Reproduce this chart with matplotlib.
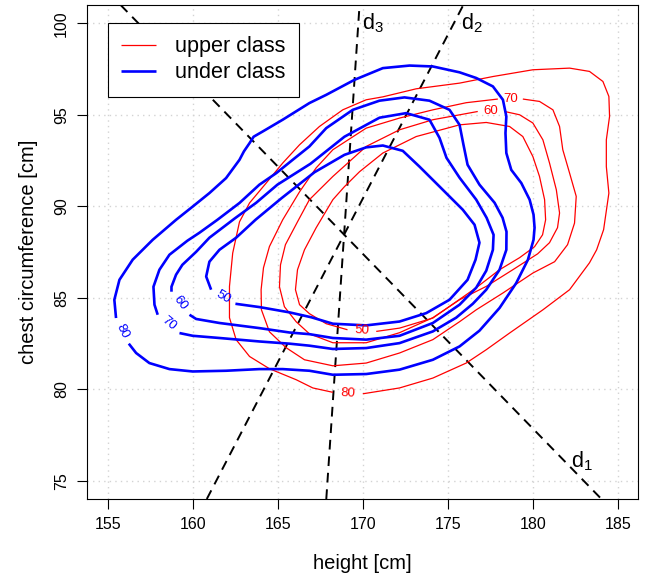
import matplotlib
matplotlib.use("Agg")
import matplotlib.pyplot as plt
import numpy as np

plt.rcParams['font.family'] = ['Liberation Sans', 'DejaVu Sans']
plt.rcParams['mathtext.fontset'] = 'custom'
plt.rcParams['mathtext.rm'] = 'Liberation Sans'
plt.rcParams['mathtext.it'] = 'Liberation Sans'

# ---------------- data ----------------
x_ticks = [155, 160, 165, 170, 175, 180, 185]
y_ticks = [75, 80, 85, 90, 95, 100]

# under class (blue) density contours; each open path, gap = label position
under_levels = [50, 60, 70, 80]
under50_x = [162.51, 163.92, 165.69, 166.98, 168.24, 170.20, 172.16, 173.73, 175.10, 176.16,
             176.63, 176.86, 176.57, 175.88, 174.51, 173.33, 172.35, 171.18, 170.20, 168.92,
             167.16, 165.22, 163.69, 162.55, 161.57, 160.98, 160.79, 161.08]
under50_y = [84.67, 84.49, 84.20, 83.93, 83.58, 83.49, 83.70, 84.16, 84.89, 85.98,
             87.08, 88.01, 88.99, 89.81, 91.08, 92.17, 93.03, 93.32, 93.22, 92.81,
             91.86, 90.44, 89.26, 88.28, 87.62, 86.97, 86.16, 85.44]
under60_x = [159.81, 160.20, 161.57, 163.92, 165.69, 166.86, 168.24, 170.20, 172.16, 174.12,
             175.69, 176.67, 177.26, 177.65, 177.69, 177.28, 176.67, 175.69, 174.92, 174.51,
             173.92, 172.55, 170.98, 168.92, 166.92, 164.98, 163.73, 162.45, 160.98, 160.20,
             159.39, 159.02, 158.75, 158.75]
under60_y = [84.07, 83.84, 83.62, 83.34, 83.10, 83.01, 82.80, 82.71, 82.92, 83.62,
             84.62, 85.55, 86.48, 87.62, 88.44, 89.37, 90.36, 91.56, 92.65, 93.74,
             94.73, 95.09, 94.84, 93.80, 92.32, 91.18, 90.19, 89.32, 88.28, 87.51,
             86.80, 86.26, 85.60, 85.33]
under70_x = [159.22, 160.00, 161.57, 163.92, 165.69, 166.86, 168.24, 170.20, 172.16, 174.12,
             175.49, 176.47, 177.26, 178.04, 178.44, 178.45, 178.22, 177.75, 176.86, 176.16,
             175.92, 175.69, 175.10, 173.92, 172.45, 170.98, 169.41, 167.85, 166.86, 165.88,
             164.91, 163.92, 162.75, 161.45, 160.39, 159.69, 158.63, 158.04, 157.69, 157.75,
             157.94]
under70_y = [83.07, 82.92, 82.80, 82.61, 82.49, 82.38, 82.20, 82.25, 82.52, 83.16,
             83.91, 84.67, 85.44, 86.53, 87.62, 88.61, 89.37, 90.19, 91.18, 92.27,
             93.36, 94.45, 95.27, 95.77, 95.95, 95.77, 95.27, 94.27, 93.27, 92.54,
             91.81, 91.18, 90.18, 89.26, 88.55, 88.12, 87.35, 86.53, 85.60, 84.62,
             84.07]
under80_x = [156.24, 156.67, 157.45, 158.63, 160.00, 161.96, 163.92, 165.29, 166.86, 168.24,
             170.20, 172.16, 174.12, 175.69, 176.86, 178.04, 179.02, 179.71, 180.04, 180.10,
             180.04, 179.81, 179.32, 178.73, 178.44, 178.39, 178.44, 178.24, 177.65, 176.67,
             175.69, 174.12, 172.75, 171.18, 169.51, 167.85, 166.86, 165.29, 164.12, 163.58,
             163.34, 163.01, 162.75, 161.96, 160.98, 159.98, 159.02, 157.65, 156.47, 155.69,
             155.39, 155.49]
under80_y = [82.49, 81.98, 81.43, 81.10, 80.97, 81.01, 81.10, 81.10, 81.01, 80.79,
             80.83, 81.07, 81.61, 82.34, 83.20, 84.44, 85.80, 87.08, 88.17, 88.83,
             89.54, 90.36, 91.27, 91.99, 92.91, 94.00, 94.91, 95.82, 96.55, 97.01,
             97.32, 97.64, 97.69, 97.55, 96.91, 96.09, 95.64, 94.73, 94.09, 93.80,
             93.45, 93.00, 92.54, 91.54, 90.72, 89.97, 89.26, 88.17, 87.08, 85.98,
             84.89, 83.89]

# upper class (red) density contours
upper_levels = [50, 60, 70, 80]
upper50_x = [170.79, 172.16, 174.12, 175.49, 176.67, 178.04, 179.22, 180.10, 180.57, 180.75,
             180.69, 180.39, 180.00, 179.41, 178.63, 177.26, 175.69, 173.14, 171.18, 169.81,
             168.92, 168.24, 167.26, 166.57, 166.16, 166.04, 166.28, 166.86, 167.85, 169.10]
upper50_y = [83.16, 83.34, 83.89, 84.78, 85.55, 86.53, 87.19, 87.79, 88.44, 89.26,
             90.36, 91.63, 92.72, 93.81, 94.36, 94.58, 94.45, 93.81, 92.91, 91.89,
             91.07, 90.36, 88.83, 87.62, 86.53, 85.44, 84.62, 84.13, 83.58, 83.25]
upper60_x = [178.34, 179.22, 180.00, 180.59, 180.98, 181.38, 181.57, 181.45, 180.98, 180.28,
             178.82, 177.26, 175.69, 174.12, 172.16, 170.20, 168.24, 166.86, 166.08, 165.39,
             165.10, 165.16, 165.45, 166.16, 166.86, 168.24, 170.20, 172.16, 174.12, 176.76]
upper60_y = [95.18, 95.00, 94.55, 93.63, 92.36, 90.90, 89.63, 88.83, 88.01, 87.40,
             86.53, 85.62, 84.89, 83.91, 83.09, 82.54, 82.54, 83.03, 83.69, 84.51,
             85.60, 86.80, 87.90, 89.15, 90.36, 91.63, 93.27, 94.18, 94.73, 95.18]
upper70_x = [179.41, 180.39, 181.18, 181.57, 181.76, 182.16, 182.55, 182.45, 182.04, 181.28,
             180.00, 178.24, 176.67, 175.69, 174.12, 172.16, 170.20, 168.24, 166.57, 165.49,
             164.51, 164.04, 164.02, 164.16, 164.51, 165.29, 166.28, 167.26, 168.24, 170.20,
             172.16, 174.12, 176.08, 177.94]
upper70_y = [95.86, 95.73, 95.27, 94.36, 93.09, 91.81, 90.54, 89.08, 87.90, 86.97,
             86.35, 85.26, 84.34, 83.69, 82.71, 81.98, 81.43, 81.28, 81.61, 82.27,
             83.14, 84.34, 85.44, 86.64, 87.80, 89.26, 90.79, 92.10, 93.09, 94.27,
             94.82, 95.27, 95.66, 95.86]
upper80_x = [170.00, 172.16, 174.12, 176.08, 177.26, 178.63, 180.59, 182.16, 183.33, 183.75,
             184.16, 184.47, 184.32, 184.32, 184.51, 184.47, 184.12, 183.33, 182.16, 180.00,
             177.65, 175.69, 173.14, 171.18, 170.20, 168.82, 167.45, 166.28, 165.29, 164.32,
             163.34, 162.75, 162.35, 162.16, 162.16, 162.55, 163.34, 164.51, 166.08, 167.06,
             168.24]
upper80_y = [79.75, 80.07, 80.61, 81.43, 82.16, 83.07, 84.34, 85.44, 86.91, 87.62,
             88.72, 90.72, 92.17, 93.63, 94.91, 96.00, 96.82, 97.37, 97.55, 97.46,
             97.09, 96.73, 96.42, 95.98, 95.82, 95.27, 94.36, 93.36, 92.36, 91.27,
             90.18, 89.15, 87.44, 85.62, 83.91, 82.71, 81.79, 81.12, 80.52, 80.07,
             79.83]

# discriminant lines through a common point
lines_center = (168.9, 88.45)
lines_slopes = [-0.955, 1.79, 13.8]

legend_labels = ["upper class", "under class"]

# ---------------- drawing ----------------
W, H = 646, 577
fig = plt.figure(figsize=(W / 100, H / 100), dpi=100)
ax = fig.add_axes([87.3 / W, 1 - 499 / H, (638.3 - 87.3) / W, (499 - 5) / H])
ax.set_xlim(153.8, 186.2)
ax.set_ylim(74.0, 101.0)

ax.set_xticks(x_ticks)
ax.set_yticks(y_ticks)
ax.grid(True, color='#D3D3D3', linestyle=(0, (1, 3)), linewidth=1.0)
ax.set_axisbelow(True)

RED = '#FF0000'
BLUE = '#0000FF'

upper = [(upper50_x, upper50_y), (upper60_x, upper60_y), (upper70_x, upper70_y), (upper80_x, upper80_y)]
under = [(under50_x, under50_y), (under60_x, under60_y), (under70_x, under70_y), (under80_x, under80_y)]

handles = {}
def draw_contours(paths, levels, color, lw, key):
    for (xs, ys), lev in zip(paths, levels):
        ln, = ax.plot(xs, ys, color=color, lw=lw, solid_capstyle='butt',
                      solid_joinstyle='round', zorder=3)
        handles.setdefault(key, ln)
        # label in the gap between end and start of the path
        p0 = ax.transData.transform((xs[-1], ys[-1]))
        p1 = ax.transData.transform((xs[0], ys[0]))
        ang = np.degrees(np.arctan2(p1[1] - p0[1], p1[0] - p0[0]))
        if ang > 90:
            ang -= 180
        if ang < -90:
            ang += 180
        mx = (xs[-1] + xs[0]) / 2
        my = (ys[-1] + ys[0]) / 2
        ax.text(mx, my, str(lev), color=color, fontsize=9.5, rotation=ang,
                rotation_mode='anchor', ha='center', va='center', zorder=4)

draw_contours(upper, upper_levels, RED, 0.9, 'upper')
draw_contours(under, under_levels, BLUE, 1.9, 'under')

for slope in lines_slopes:
    ax.axline(lines_center, slope=slope, color='black', lw=1.4,
              linestyle=(0, (5, 3.5)), zorder=2)

ax.text(182.86, 76.04, r"d$_1$", fontsize=15.5, ha='center', va='center')
ax.text(176.39, 100.03, r"d$_2$", fontsize=15.5, ha='center', va='center')
ax.text(170.57, 100.03, r"d$_3$", fontsize=15.5, ha='center', va='center')

leg = ax.legend([handles['upper'], handles['under']], legend_labels,
                loc='upper left', bbox_to_anchor=(0.0376, 0.9636),
                fontsize=15.6, frameon=True, fancybox=False, framealpha=1,
                edgecolor='black', handlelength=1.61, handletextpad=0.85,
                borderpad=0.62, labelspacing=0.22, borderaxespad=0)
leg.get_frame().set_linewidth(0.8)

ax.set_xlabel("height [cm]", fontsize=14.5, labelpad=16)
ax.set_ylabel("chest circumference [cm]", fontsize=14.5, labelpad=12)

ax.tick_params(direction='out', length=7, width=0.8, labelsize=11.5, pad=6, colors='black')
ax.tick_params(axis='y', labelrotation=90)
for lbl in ax.get_yticklabels():
    lbl.set_va('center')
for sp in ax.spines.values():
    sp.set_linewidth(0.8)

fig.savefig("out.png", dpi=100)
